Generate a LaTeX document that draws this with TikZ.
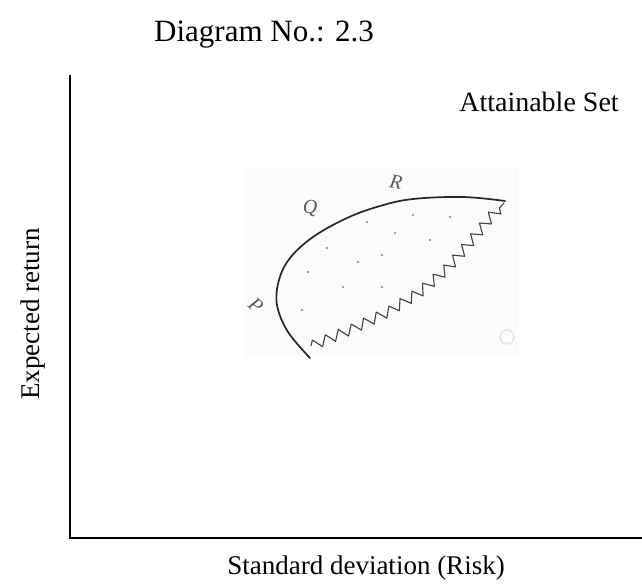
\documentclass[tikz,border=0pt]{standalone}
\usepackage{fontspec}
\setmainfont{Liberation Serif}
\usetikzlibrary{decorations.pathmorphing}
\begin{document}
\begin{tikzpicture}[x=1pt,y=-1pt,
  axisline/.style={line width=1.3pt,black},
  lbl/.style={inner sep=0pt,font=\fontsize{27}{30}\selectfont},
  hand/.style={line width=1.7pt,black!85,line cap=round,line join=round},
  wave/.style={line width=1.1pt,black!75,line join=round,
     decorate,decoration={zigzag,segment length=14pt,amplitude=5pt}},
  letter/.style={inner sep=0pt,text=black!65,font=\fontsize{20}{20}\selectfont\itshape},
  pt/.style={circle,fill=black!40,inner sep=0pt,minimum size=2.8pt}]
\useasboundingbox (0,0) rectangle (642,588);
% inset scan background
\fill[black!1.5] (244,168) rectangle (518,357);
% axes
\coordinate (ytop) at (70,75);
\coordinate (orig) at (70,538);
\coordinate (xend) at (642,538);
\draw[axisline] (ytop) -- (orig) -- (xend);
% texts
\node[lbl,font=\fontsize{31}{34}\selectfont] (title) at (264,35) {Diagram No.: 2.3};
\node[lbl,font=\fontsize{28}{30}\selectfont] (att) at (539,102) {Attainable Set};
\node[lbl,rotate=90] (ylab) at (33,314) {Expected return};
\node[lbl] (xlab) at (366,568) {Standard deviation (Risk)};
% efficient boundary
\draw[hand] plot[smooth,tension=0.6] coordinates {(310,358) (288,332) (277,305) (279,280) (290,258) (313,237) (347,218) (380,206) (413,199) (463,197) (505,201)};
% lower wavy boundary
\coordinate (w0) at (311,346);
\coordinate (w1) at (350,330);
\coordinate (w2) at (388,312);
\coordinate (w3) at (420,292);
\coordinate (w4) at (448,268);
\coordinate (w5) at (472,240);
\coordinate (w6) at (490,218);
\coordinate (w7) at (504,203);
\draw[wave] (w0) -- (w1) -- (w2) -- (w3) -- (w4) -- (w5) -- (w6) -- (w7);
% letters
\node[letter,rotate=-40] (P) at (256,305) {P};
\node[letter] (Q) at (310,208) {Q};
\node[letter,rotate=-10] (R) at (396,182) {R};
% dots
\foreach \x/\y [count=\i] in {367/222,413/215,450/217,327/248,395/233,430/240,382/255,358/262,308/272,343/287,382/287,302/310}
  \node[pt] (d\i) at (\x,\y) {};
% faint circle
\draw[black!10,line width=1.5pt] (507,337) circle (7pt);
\end{tikzpicture}
\end{document}
